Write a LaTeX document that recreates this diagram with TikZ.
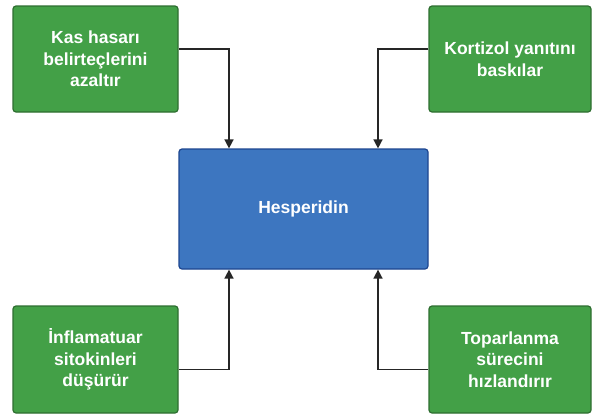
\documentclass[tikz,border=0pt]{standalone}
\usepackage{fontspec}
\setmainfont{Liberation Sans}
\usepackage{xcolor}
\usepackage{tikz}
\usetikzlibrary{arrows.meta}

\definecolor{kutuyesil}{HTML}{43A047}
\definecolor{kenaryesil}{HTML}{2E6E30}
\definecolor{kutumavi}{HTML}{3D76C0}
\definecolor{kenarmavi}{HTML}{1D4690}

\begin{document}
\begin{tikzpicture}[x=1pt,y=-1pt,
    etki/.style={rectangle, rounded corners=3pt, draw=kenaryesil, line width=1.2pt,
      fill=kutuyesil, text=white, align=center, inner sep=0pt,
      font=\fontsize{17.5}{21.5}\selectfont\bfseries},
    merkez/.style={rectangle, rounded corners=3pt, draw=kenarmavi, line width=1.2pt,
      fill=kutumavi, text=white, align=center, inner sep=0pt,
      minimum width=249pt, minimum height=120pt,
      font=\fontsize{17.5}{21.5}\selectfont\bfseries},
    ok/.style={draw=black!85, line width=1.5pt, -{Triangle[length=9pt,width=9pt]}}]
    \useasboundingbox[fill=white] (0,0) rectangle (593,415);

    \node [merkez] (hesp) at (303.5,209) {Hesperidin};

    \node [etki, minimum width=165pt, minimum height=106pt] (kas) at (95.5,59)
      {Kas hasarı\\belirteçlerini\\azaltır};
    \node [etki, minimum width=162pt, minimum height=106pt] (kortizol) at (510,59)
      {Kortizol yanıtını\\baskılar};
    \node [etki, minimum width=165pt, minimum height=107pt] (inflam) at (95.5,359.5)
      {İnflamatuar\\sitokinleri\\düşürür};
    \node [etki, minimum width=162pt, minimum height=107pt] (topar) at (510,359.5)
      {Toparlanma\\sürecini\\hızlandırır};

    \draw [ok] ([yshift=10pt]kas.east) -| ([xshift=-74.5pt]hesp.north);
    \draw [ok] ([yshift=10pt]kortizol.west) -| ([xshift=74.5pt]hesp.north);
    \draw [ok] ([yshift=-10pt]inflam.east) -| ([xshift=-74.5pt]hesp.south);
    \draw [ok] ([yshift=-10pt]topar.west) -| ([xshift=74.5pt]hesp.south);
\end{tikzpicture}
\end{document}
